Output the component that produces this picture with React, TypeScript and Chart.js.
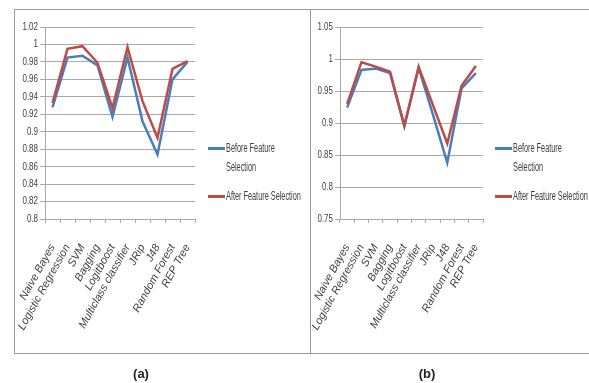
import React, { useEffect, useRef } from "react";
import { Chart, registerables } from "chart.js";

Chart.register(...registerables);

const categories = [
  "Naive Bayes",
  "Logistic Regression",
  "SVM",
  "Bagging",
  "Logitboost",
  "Multiclass classifier",
  "JRip",
  "J48",
  "Random Forest",
  "REP Tree",
];

const seriesNames = ["Before Feature Selection", "After Feature Selection"];

const beforeA = [0.928, 0.985, 0.987, 0.976, 0.917, 0.985, 0.912, 0.874, 0.96, 0.98];
const afterA = [0.933, 0.995, 0.998, 0.979, 0.927, 0.997, 0.935, 0.893, 0.972, 0.981];
const beforeB = [0.924, 0.983, 0.985, 0.978, 0.895, 0.986, 0.913, 0.838, 0.954, 0.978];
const afterB = [0.93, 0.995, 0.988, 0.98, 0.896, 0.988, 0.928, 0.868, 0.958, 0.989];

const axisA = [0.8, 1.02, 0.02];
const axisB = [0.75, 1.05, 0.05];

const BLUE = "#4a7ebb";
const RED = "#be4b48";
const GRID = "#a9a9a9";
const TEXT = "#404040";
const SANS = '"Liberation Sans", Arial, sans-serif';

const fmt = (v: number) => String(Number(Number(v).toFixed(2)));

// y tick labels drawn condensed (like the narrow font of the original)
const condensedYLabels = {
  id: "condensedYLabels",
  afterDraw(chart: any) {
    const s = chart.scales.y;
    const ctx = chart.ctx;
    ctx.save();
    ctx.fillStyle = TEXT;
    ctx.font = "10.5px " + SANS;
    ctx.textAlign = "right";
    ctx.textBaseline = "middle";
    s.ticks.forEach((t: any) => {
      const y = s.getPixelForValue(t.value);
      ctx.save();
      ctx.translate(s.right - 7, y);
      ctx.scale(0.76, 1);
      ctx.fillText(fmt(t.value), 0, 0);
      ctx.restore();
    });
    ctx.restore();
  },
};

type ChartProps = {
  before: number[];
  after: number[];
  axis: number[];
  left: number;
  top: number;
  width: number;
  height: number;
  yWidth: number;
};

function LineChart({ before, after, axis, left, top, width, height, yWidth }: ChartProps) {
  const ref = useRef<HTMLCanvasElement>(null);
  useEffect(() => {
    const chart = new Chart(ref.current!, {
      type: "line",
      data: {
        labels: categories,
        datasets: [
          {
            label: seriesNames[0],
            data: before,
            borderColor: BLUE,
            backgroundColor: BLUE,
            borderWidth: 2.5,
            pointRadius: 0,
            tension: 0,
            order: 1,
          },
          {
            label: seriesNames[1],
            data: after,
            borderColor: RED,
            backgroundColor: RED,
            borderWidth: 2.5,
            pointRadius: 0,
            tension: 0,
            order: 0,
          },
        ],
      },
      options: {
        responsive: false,
        animation: false,
        layout: { padding: { top: 17, right: 5, left: 0, bottom: 0 } },
        plugins: { legend: { display: false }, tooltip: { enabled: false } },
        scales: {
          x: {
            offset: true,
            grid: { offset: true, drawOnChartArea: false, tickLength: 4, color: GRID },
            border: { color: GRID },
            ticks: {
              autoSkip: false,
              minRotation: 61,
              maxRotation: 61,
              padding: 19,
              color: TEXT,
              font: { family: SANS, size: 11, style: "italic" },
            },
            afterFit: (s: any) => {
              s.height = height - 209;
              s.paddingLeft = 0;
              s.paddingRight = 0;
            },
          },
          y: {
            min: axis[0],
            max: axis[1],
            ticks: {
              stepSize: axis[2],
              display: false,
            },
            grid: { color: GRID, tickLength: 5 },
            border: { color: GRID },
            afterFit: (s: any) => {
              s.width = yWidth;
            },
          },
        },
      },
      plugins: [condensedYLabels],
    });
    return () => chart.destroy();
  }, []);
  return (
    <canvas
      ref={ref}
      width={width}
      height={height}
      style={{ position: "absolute", left, top, width, height }}
    />
  );
}

function Legend({ left }: { left: number }) {
  const textStyle: React.CSSProperties = {
    position: "absolute",
    left: left + 18,
    fontFamily: SANS,
    fontSize: 12,
    color: TEXT,
    whiteSpace: "nowrap",
    transform: "scaleX(0.61)",
    transformOrigin: "left center",
    lineHeight: "14px",
  };
  const mark = (top: number, color: string): React.CSSProperties => ({
    position: "absolute",
    left,
    top,
    width: 17,
    height: 3,
    background: color,
  });
  return (
    <>
      <div style={mark(147, BLUE)} />
      <div style={{ ...textStyle, top: 141 }}>Before Feature</div>
      <div style={{ ...textStyle, top: 160 }}>Selection</div>
      <div style={mark(195, RED)} />
      <div style={{ ...textStyle, top: 189 }}>{seriesNames[1]}</div>
    </>
  );
}

const captionStyle: React.CSSProperties = {
  position: "absolute",
  top: 366,
  width: 40,
  textAlign: "center",
  fontFamily: SANS,
  fontWeight: "bold",
  fontSize: 13,
  color: "#222",
};

export default function App() {
  return (
    <div
      style={{
        position: "fixed",
        left: 0,
        top: 0,
        width: 589,
        height: 383,
        background: "#fff",
        overflow: "hidden",
      }}
    >
      <div
        style={{
          position: "absolute",
          left: 14,
          top: 9,
          width: 297,
          height: 345,
          border: "1px solid #999",
          boxSizing: "border-box",
        }}
      />
      <div
        style={{
          position: "absolute",
          left: 310,
          top: 9,
          width: 300,
          height: 345,
          border: "1px solid #999",
          boxSizing: "border-box",
        }}
      />
      <LineChart before={beforeA} after={afterA} axis={axisA} left={14} top={10} width={186} height={335} yWidth={31} />
      <LineChart before={beforeB} after={afterB} axis={axisB} left={311} top={10} width={177} height={335} yWidth={29} />
      <div style={{ position: "absolute", left: 0, top: 0, width: 309, height: 383, overflow: "hidden" }}>
        <Legend left={208} />
      </div>
      <div style={{ position: "absolute", left: 0, top: 0, width: 589, height: 383, overflow: "hidden" }}>
        <Legend left={495} />
      </div>
      <div style={{ ...captionStyle, left: 121 }}>(a)</div>
      <div style={{ ...captionStyle, left: 407 }}>(b)</div>
    </div>
  );
}
